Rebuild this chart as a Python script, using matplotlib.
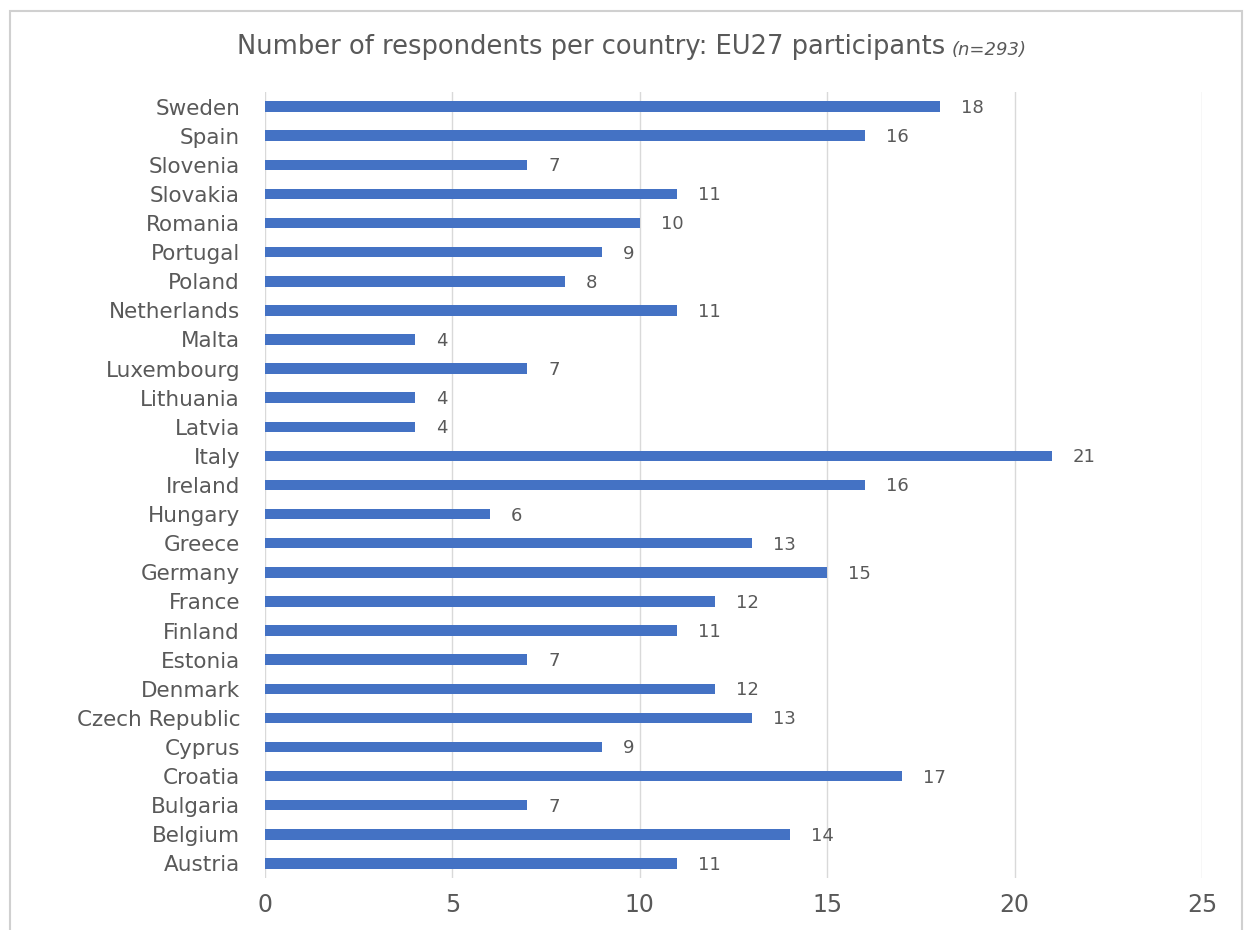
import matplotlib
matplotlib.use("Agg")
import matplotlib.pyplot as plt
from matplotlib.patches import Rectangle

# Respondents per EU27 country, listed top to bottom as drawn
countries = ["Sweden", "Spain", "Slovenia", "Slovakia", "Romania", "Portugal",
             "Poland", "Netherlands", "Malta", "Luxembourg", "Lithuania",
             "Latvia", "Italy", "Ireland", "Hungary", "Greece", "Germany",
             "France", "Finland", "Estonia", "Denmark", "Czech Republic",
             "Cyprus", "Croatia", "Bulgaria", "Belgium", "Austria"]
respondents = [18, 16, 7, 11, 10, 9, 8, 11, 4, 7, 4, 4, 21, 16, 6, 13, 15,
               12, 11, 7, 12, 13, 9, 17, 7, 14, 11]
x_ticks = [0, 5, 10, 15, 20, 25]

TEXT = "#595959"
BAR = "#4472C4"
GRID = "#D9D9D9"

plt.rcParams["font.family"] = ["DejaVu Sans"]

fig = plt.figure(figsize=(12.45, 9.3), dpi=100)
ax = fig.add_axes([0.2129, 0.0559, 0.7526, 0.8451])

pos = list(range(len(countries)))[::-1]
ax.barh(pos, respondents, height=0.36, color=BAR, zorder=3)

for y, v in zip(pos, respondents):
    ax.annotate(str(v), (v, y), xytext=(15, -1), textcoords="offset points",
                va="center", ha="left", fontsize=13, color=TEXT)

ax.set_xlim(0, 25)
ax.set_ylim(-0.5, len(countries) - 0.5)
ax.set_yticks(pos)
ax.set_yticklabels(countries, fontsize=15.5, color=TEXT)
ax.set_xticks(x_ticks)
ax.set_xticklabels([str(t) for t in x_ticks], fontsize=17, color=TEXT)
ax.tick_params(axis="both", length=0)
ax.tick_params(axis="y", pad=18)
ax.tick_params(axis="x", pad=11)
ax.xaxis.grid(True, color=GRID, linewidth=1, zorder=0)
for side in ax.spines.values():
    side.set_visible(False)

# chart frame
fig.patches.append(Rectangle((10 / 1245, -0.05), 1232 / 1245, 1 - 11 / 930 + 0.05,
                             transform=fig.transFigure, fill=False,
                             edgecolor="#D0D0D0", linewidth=1.5))

# title with italic sample size, centred as one line
title = fig.text(0, 0.949, "Number of respondents per country: EU27 participants",
                 fontsize=18.5, color=TEXT, ha="left", va="center")
note = fig.text(0, 0.946, "(n=293)", fontsize=13, style="italic",
                color=TEXT, ha="left", va="center")
fig.canvas.draw()
w_title = title.get_window_extent().width
w_note = note.get_window_extent().width
gap = 6
start = 632 - (w_title + gap + w_note) / 2
title.set_x(start / fig.bbox.width)
note.set_x((start + w_title + gap) / fig.bbox.width)

fig.savefig("out.png", dpi=100)
